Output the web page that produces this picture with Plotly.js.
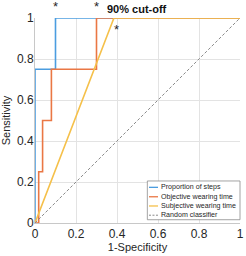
<!DOCTYPE html>
<html>
<head>
<meta charset="utf-8">
<script src="https://cdn.plot.ly/plotly-3.0.1.min.js"></script>
<style>html,body{margin:0;padding:0;background:#fff;}#chart{width:246px;height:256px;}</style>
</head>
<body>
<div id="chart"></div>
<script>
// ---- data ----
const seriesNames = ["Proportion of steps", "Objective wearing time", "Subjective wearing time", "Random classifier"];
const stepsFPR = [0, 0, 0.1, 1];
const stepsTPR = [0, 0.75, 1, 1];
const objFPR = [0, 0.018, 0.037, 0.08, 0.3, 1];
const objTPR = [0, 0.25, 0.5, 0.75, 1, 1];
const subjFPR = [0, 0.385, 1];
const subjTPR = [0, 1, 1];
const randFPR = [0, 1];
const randTPR = [0, 1];
const cutoffX = [0.1, 0.3, 0.395];
const cutoffY = [1, 1, 1];
const cutoffLabel = "90% cut-off";
const tickVals = [0, 0.2, 0.4, 0.6, 0.8, 1];
const tickText = ["0", "0.2", "0.4", "0.6", "0.8", "1"];

// ---- style ----
const colors = ["#4b9de0", "#ea7744", "#f5c04a", "#8a8a8a"];
const FONT = "Liberation Sans, Arial, sans-serif";
const textCol = "#262626";

const traces = [
  {x: stepsFPR, y: stepsTPR, mode: "lines", line: {color: colors[0], width: 1.6, shape: "hv"}, cliponaxis: false},
  {x: objFPR, y: objTPR, mode: "lines", line: {color: colors[1], width: 1.6, shape: "hv"}, cliponaxis: false},
  {x: subjFPR, y: subjTPR, mode: "lines", line: {color: colors[2], width: 1.6}, cliponaxis: false},
  {x: randFPR, y: randTPR, mode: "lines", line: {color: colors[3], width: 1, dash: "3px,2px"}, cliponaxis: false}
];

const annotations = [];
const shapes = [];
// cut-off asterisks
const starShift = [12, 12, -11];
cutoffX.forEach((x, i) => {
  annotations.push({x: x, y: cutoffY[i], xref: "x", yref: "y", text: "*", showarrow: false,
    yshift: starShift[i], xshift: i === 2 ? 1 : 0, font: {family: FONT, size: 13, color: textCol}});
});
annotations.push({x: cutoffX[1], y: cutoffY[1], xref: "x", yref: "y", text: "<b>" + cutoffLabel + "</b>",
  showarrow: false, xanchor: "left", xshift: 8, yshift: 9, font: {family: FONT, size: 11, color: "#111"}});

// custom legend
shapes.push({type: "rect", xref: "paper", yref: "paper", x0: 0.548, x1: 1.0, y0: 0.016, y1: 0.205,
  line: {color: "#8c8c8c", width: 0.8}, fillcolor: "#ffffff", layer: "above"});
const rowY = [0.174, 0.128, 0.083, 0.038];
seriesNames.forEach((name, i) => {
  shapes.push({type: "line", xref: "paper", yref: "paper", x0: 0.556, x1: 0.60, y0: rowY[i], y1: rowY[i],
    line: {color: colors[i], width: i === 3 ? 1 : 1.3, dash: i === 3 ? "2px,1.5px" : "solid"}, layer: "above"});
  annotations.push({x: 0.605, y: rowY[i], xref: "paper", yref: "paper", text: name, showarrow: false,
    xanchor: "left", yanchor: "middle", font: {family: FONT, size: 7.1, color: textCol}});
});

const axisCommon = {
  range: [0, 1], tickvals: tickVals, ticktext: tickText, showgrid: true, gridcolor: "#e3e3e3", gridwidth: 1,
  zeroline: false, showline: true, linecolor: "#c8c8c8", linewidth: 1, ticks: "",
  tickfont: {family: FONT, size: 12, color: textCol}, fixedrange: true
};

const layout = {
  width: 246, height: 256,
  margin: {l: 35, r: 6, t: 18, b: 33, pad: 0},
  paper_bgcolor: "#fff", plot_bgcolor: "#fff",
  showlegend: false,
  xaxis: Object.assign({}, axisCommon, {title: {text: "1-Specificity", font: {family: FONT, size: 11, color: textCol}, standoff: 2}}),
  yaxis: Object.assign({}, axisCommon, {ticklabelstandoff: -2, title: {text: "Sensitivity", font: {family: FONT, size: 11, color: textCol}, standoff: 4}}),
  annotations: annotations,
  shapes: shapes
};

Plotly.newPlot("chart", traces, layout, {staticPlot: true, displayModeBar: false});
</script>
</body>
</html>
